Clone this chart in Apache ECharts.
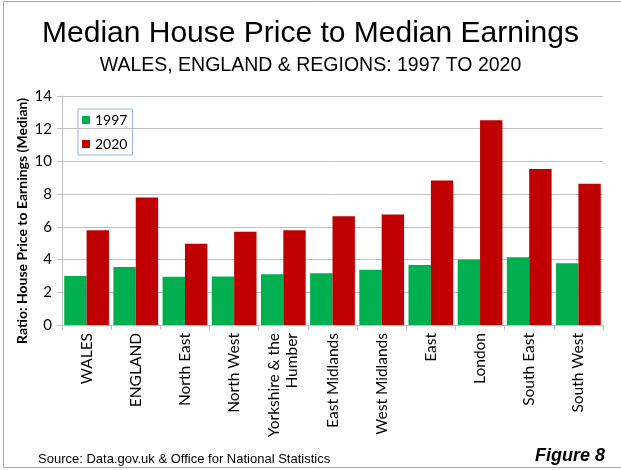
<!DOCTYPE html>
<html>
<head>
<meta charset="utf-8">
<script src="https://cdn.jsdelivr.net/npm/echarts@6/dist/echarts.min.js"></script>
<style>
  html, body { margin: 0; padding: 0; background: #fff; }
  #chart { width: 621px; height: 470px; }
</style>
</head>
<body>
<div id="chart"></div>
<script>
// regions along the x axis
const categories = ['WALES', 'ENGLAND', 'North East', 'North West', 'Yorkshire & the\nHumber',
  'East Midlands', 'West Midlands', 'East', 'London', 'South East', 'South West'];
// ratio values
const values1997 = [3.0, 3.55, 2.95, 2.97, 3.1, 3.16, 3.38, 3.67, 4.0, 4.14, 3.77];
const values2020 = [5.8, 7.8, 4.97, 5.7, 5.79, 6.65, 6.75, 8.83, 12.52, 9.54, 8.64];
const yTicks = [0, 2, 4, 6, 8, 10, 12, 14];

const greenColor = '#00b050';
const redColor = '#c00000';
const gridColor = '#bfbfbf';

const myChart = echarts.init(document.getElementById('chart'));

const option = {
  backgroundColor: '#ffffff',
  animation: false,
  title: [
    {
      text: 'Median House Price to Median Earnings',
      left: 'center',
      top: 14,
      textStyle: { fontFamily: 'Liberation Sans', fontWeight: 'normal', fontSize: 30, color: '#000' },
    },
    {
      text: 'WALES, ENGLAND & REGIONS: 1997 TO 2020',
      left: 'center',
      top: 51,
      textStyle: { fontFamily: 'Liberation Sans', fontWeight: 'normal', fontSize: 19.5, color: '#000' },
    },
    {
      text: 'Source: Data.gov.uk & Office for National Statistics',
      left: 33,
      top: 448,
      textStyle: { fontFamily: 'Liberation Sans', fontWeight: 'normal', fontSize: 13, color: '#000' },
    },
    {
      text: 'Figure 8',
      right: 11,
      top: 442,
      textStyle: { fontFamily: 'Liberation Sans', fontWeight: 'bold', fontStyle: 'italic', fontSize: 18, color: '#000' },
    },
  ],
  graphic: [
    // frame round the picture (left, top, bottom)
    {
      type: 'polyline',
      shape: { points: [[621, 1.5], [3.5, 1.5], [3.5, 467.5], [621, 467.5]] },
      style: { fill: 'none', stroke: '#a6a6a6', lineWidth: 1 },
      silent: true,
    },
    // y axis title
    {
      type: 'text',
      x: 22,
      y: 221,
      rotation: Math.PI / 2,
      style: {
        text: 'Ratio: House Price to Earnings (Median)',
        fontFamily: 'Lato',
        fontWeight: 'bold',
        fontSize: 14,
        fill: '#000',
        align: 'center',
        verticalAlign: 'middle',
      },
      silent: true,
    },
  ],
  legend: {
    orient: 'vertical',
    left: 78,
    top: 109,
    data: ['1997', '2020'],
    icon: 'rect',
    itemWidth: 8,
    itemHeight: 8,
    itemGap: 10,
    padding: [4, 5, 4, 4],
    borderColor: '#95b3d7',
    borderWidth: 1,
    textStyle: { fontFamily: 'Lato', fontSize: 14, color: '#000' },
  },
  grid: {
    left: 62,
    right: 18,
    top: 96,
    bottom: 145,
  },
  xAxis: {
    type: 'category',
    data: categories,
    axisLine: { lineStyle: { color: gridColor } },
    axisTick: { show: true, length: 5, lineStyle: { color: gridColor } },
    axisLabel: {
      interval: 0,
      rotate: 90,
      margin: 8,
      color: '#000',
      fontFamily: 'Lato',
      fontSize: 15.5,
      lineHeight: 18,
    },
  },
  yAxis: {
    type: 'value',
    min: yTicks[0],
    max: yTicks[yTicks.length - 1],
    interval: 2,
    axisLine: { show: true, lineStyle: { color: gridColor } },
    axisTick: { show: true, length: 5, lineStyle: { color: gridColor } },
    axisLabel: { color: '#000', fontFamily: 'Lato', fontSize: 15, margin: 10 },
    splitLine: { lineStyle: { color: gridColor } },
  },
  series: [
    {
      name: '1997',
      type: 'bar',
      data: values1997,
      itemStyle: { color: greenColor },
      barGap: '0%',
      barCategoryGap: '9%',
    },
    {
      name: '2020',
      type: 'bar',
      data: values2020,
      itemStyle: { color: redColor },
      barGap: '0%',
      barCategoryGap: '9%',
    },
  ],
};

myChart.setOption(option);
</script>
</body>
</html>
